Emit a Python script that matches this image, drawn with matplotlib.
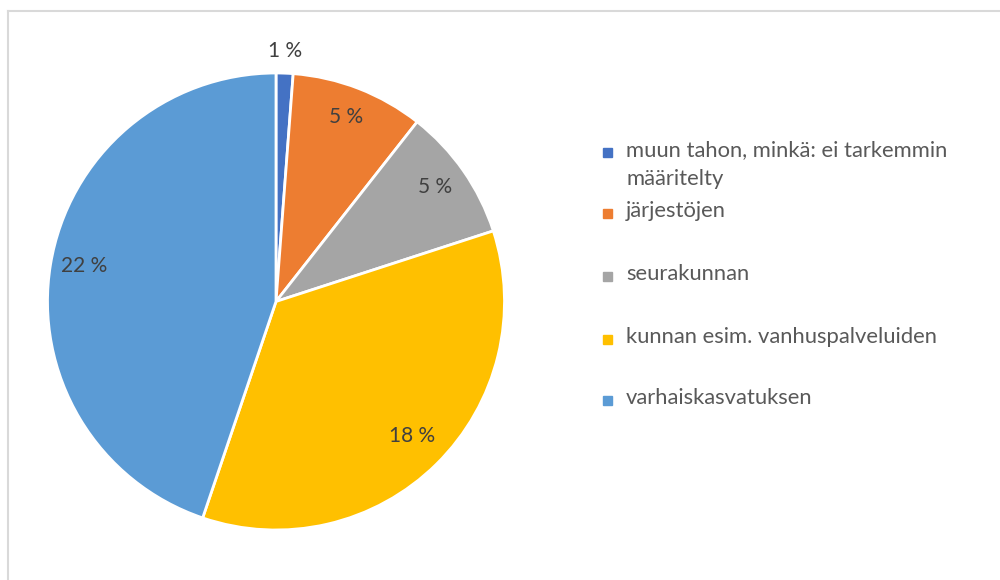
import numpy as np
import matplotlib.pyplot as plt
from matplotlib.lines import Line2D
from matplotlib.patches import Rectangle

categories = [
    "muun tahon, minkä: ei tarkemmin\nmääritelty",
    "järjestöjen",
    "seurakunnan",
    "kunnan esim. vanhuspalveluiden",
    "varhaiskasvatuksen",
]
values = [0.6, 4.7, 4.7, 17.6, 22.4]
colors = ["#4472C4", "#ED7D31", "#A5A5A5", "#FFC000", "#5B9BD5"]

W, H = 1000, 580
fig = plt.figure(figsize=(W / 100, H / 100), dpi=100)
plt.rcParams['font.family'] = ['Lato', 'DejaVu Sans']
text_color = "#595959"

# light grey chart-area border (only top and left edges are visible)
fig.add_artist(Line2D([7.5 / W, 7.5 / W], [0, 1 - 10.5 / H], transform=fig.transFigure,
                      color="#d9d9d9", lw=1.5))
fig.add_artist(Line2D([7.5 / W, 1], [1 - 10.5 / H, 1 - 10.5 / H], transform=fig.transFigure,
                      color="#d9d9d9", lw=1.5))

cx, cy, r = 276, 301.5, 228.5
ax = fig.add_axes([(cx - r) / W, (H - cy - r) / H, 2 * r / W, 2 * r / H])
wedges, _ = ax.pie(values, colors=colors, startangle=90, counterclock=False,
                   wedgeprops=dict(edgecolor="white", linewidth=2))
ax.set_xlim(-1, 1)
ax.set_ylim(-1, 1)
ax.axis("off")

for i, (w, v) in enumerate(zip(wedges, values)):
    mid = np.deg2rad((w.theta1 + w.theta2) / 2)
    rr = 1.08 if v < 2 else 0.85
    ax.text(rr * np.cos(mid), rr * np.sin(mid) + 0.015, f"{v:.0f} %", ha="center", va="center",
            fontsize=15, color="#404040")

# legend
legend_y = [152, 213, 276, 339, 400]
for lab, c, y in zip(categories, colors, legend_y):
    fig.add_artist(Rectangle(((607 - 4.5) / W, 1 - (y + 4.5) / H), 9 / W, 9 / H,
                             transform=fig.transFigure, color=c))
    fig.text(626 / W, 1 - (y - 12) / H, lab, ha="left", va="top", fontsize=15.8,
             color=text_color, linespacing=1.55)

fig.savefig("out.png", dpi=100)
